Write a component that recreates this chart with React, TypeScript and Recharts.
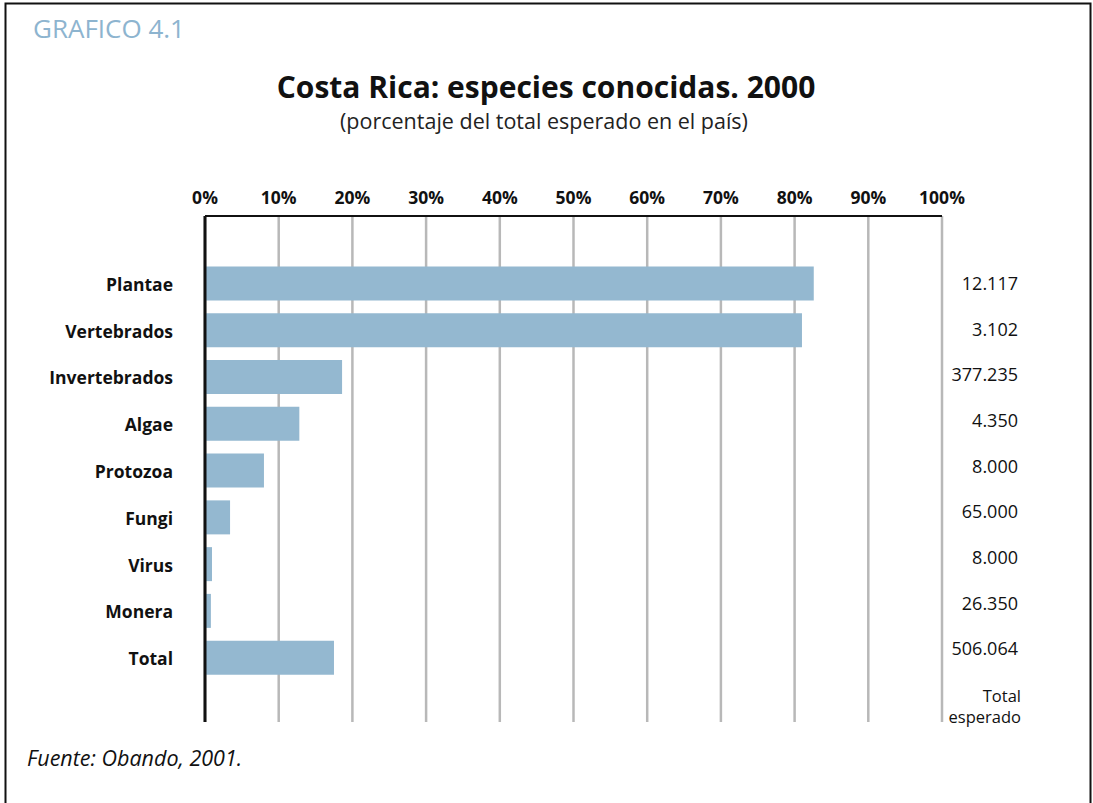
import React from 'react';
import { BarChart, Bar, XAxis, YAxis, CartesianGrid } from 'recharts';

// categories (top to bottom)
const categories = ['Plantae', 'Vertebrados', 'Invertebrados', 'Algae', 'Protozoa', 'Fungi', 'Virus', 'Monera', 'Total'];
// known species, % of total expected in the country
const knownPct = [82.6, 81.0, 18.6, 12.8, 8.0, 3.4, 0.95, 0.8, 17.5];
// total expected species (label column on the right)
const totalExpected = ['12.117', '3.102', '377.235', '4.350', '8.000', '65.000', '8.000', '26.350', '506.064'];
const xTicks = [0, 10, 20, 30, 40, 50, 60, 70, 80, 90, 100];

const data = categories.map((name, i) => ({ name, pct: knownPct[i], total: totalExpected[i] }));

const FONT = '"Open Sans", "Noto Sans", sans-serif';
const BAR = '#94b8d0';
const GRID = '#b8b8b8';

const TopTick = (props: any) => {
  const { x, payload } = props;
  return (
    <text x={x} y={204} textAnchor="middle" fontFamily={FONT} fontWeight={700} fontSize={17.5} fill="#111">
      {payload.value}%
    </text>
  );
};

const LeftTick = (props: any) => {
  const { y, payload } = props;
  return (
    <text x={173} y={y + 7} textAnchor="end" fontFamily={FONT} fontWeight={700} fontSize={17.5} fill="#111">
      {payload.value}
    </text>
  );
};

const RightTick = (props: any) => {
  const { y, index } = props;
  // the printed column drifts slightly upward vs the bars
  return (
    <text x={1018} y={y + 6 - index * 1.1} textAnchor="end" fontFamily={FONT} fontSize={18} fill="#111">
      {totalExpected[index]}
    </text>
  );
};

export default function App() {
  return (
    <div style={{ position: 'absolute', left: 0, top: 0, width: 1093, height: 803, background: '#fff', overflow: 'hidden' }}>
      <BarChart
        width={1093}
        height={803}
        data={data}
        layout="vertical"
        margin={{ top: 186, right: 51, bottom: 81, left: 5 }}
        barCategoryGap={0}
      >
        <CartesianGrid horizontal={false} vertical stroke={GRID} strokeWidth={2.5} />
        <XAxis
          type="number"
          orientation="top"
          domain={[0, 100]}
          ticks={xTicks}
          height={30}
          axisLine={{ stroke: '#111', strokeWidth: 2 }}
          tickLine={false}
          tick={<TopTick />}
          interval={0}
        />
        <YAxis
          yAxisId="left"
          type="category"
          dataKey="name"
          width={200}
          padding={{ top: 44.6, bottom: 40.6 }}
          axisLine={{ stroke: '#111', strokeWidth: 3 }}
          tickLine={false}
          tick={<LeftTick />}
          interval={0}
        />
        <YAxis
          yAxisId="right"
          orientation="right"
          type="category"
          dataKey="name"
          width={100}
          padding={{ top: 44.6, bottom: 40.6 }}
          axisLine={false}
          tickLine={false}
          tick={<RightTick />}
          interval={0}
        />
        <Bar yAxisId="left" dataKey="pct" fill={BAR} barSize={34} isAnimationActive={false} />
      </BarChart>
      <svg width={1093} height={803} style={{ position: 'absolute', left: 0, top: 0, pointerEvents: 'none' }}>
        <rect x={5.5} y={3.5} width={1085} height={810} fill="none" stroke="#111" strokeWidth={2} />
        <text x={33} y={38} fontFamily={FONT} fontSize={26} fill="#8db4cf">GRAFICO 4.1</text>
        <text x={546} y={98} textAnchor="middle" fontFamily={FONT} fontWeight={700} fontSize={30} fill="#111">
          Costa Rica: especies conocidas. 2000
        </text>
        <text x={544} y={129} textAnchor="middle" fontFamily={FONT} fontSize={21.5} fill="#222">
          (porcentaje del total esperado en el país)
        </text>
        <text x={1021} y={702} textAnchor="end" fontFamily={FONT} fontSize={16.5} fill="#111">Total</text>
        <text x={1021} y={723} textAnchor="end" fontFamily={FONT} fontSize={16.5} fill="#111">esperado</text>
        <text x={27} y={766} fontFamily={FONT} fontStyle="italic" fontSize={21.5} fill="#111">Fuente: Obando, 2001.</text>
      </svg>
    </div>
  );
}
